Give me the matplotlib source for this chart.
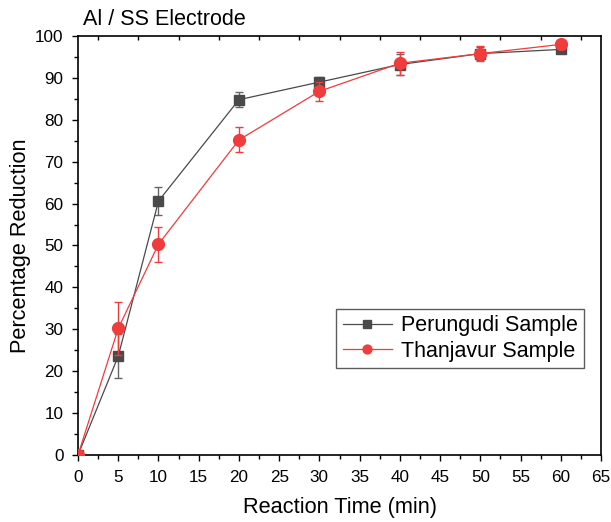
import matplotlib
matplotlib.use("Agg")
import matplotlib.pyplot as plt
from matplotlib.ticker import MultipleLocator, FixedLocator, NullFormatter

plt.rcParams['font.family'] = ['Liberation Sans', 'DejaVu Sans']

time = [0, 5, 10, 20, 30, 40, 50, 60]
perungudi = [0, 23.6, 60.6, 84.8, 89.0, 93.2, 95.8, 96.8]
perungudi_err = [0, 5.2, 3.4, 1.8, 1.2, 2.5, 1.5, 0.8]
thanjavur = [0, 30.2, 50.3, 75.2, 86.8, 93.5, 95.8, 98.0]
thanjavur_err = [0, 6.3, 4.2, 3.0, 2.3, 2.8, 1.8, 1.0]

fig = plt.figure(figsize=(6.11, 5.22), dpi=100)
ax = fig.add_axes([0.1277, 0.1284, 0.8559, 0.8026])

gray = '#4a4a4a'
red = '#f03c3c'
c1 = ax.errorbar(time, perungudi, yerr=perungudi_err, color=gray, marker='s', ms=7.5,
                 lw=0.9, capsize=3, elinewidth=1, ecolor='#666666', zorder=3)
c2 = ax.errorbar(time, thanjavur, yerr=thanjavur_err, color=red, marker='o', ms=8.5,
                 lw=0.9, capsize=3, elinewidth=1, ecolor=red, zorder=4)

ax.set_xlim(0, 65)
ax.set_ylim(0, 100)
ax.xaxis.set_major_locator(MultipleLocator(5))
ax.xaxis.set_minor_locator(MultipleLocator(2.5))
ax.yaxis.set_major_locator(MultipleLocator(10))
ax.yaxis.set_minor_locator(MultipleLocator(5))
ax.tick_params(which='both', direction='out', top=False, right=False, labelsize=12.3, width=1)
ax.tick_params(which='major', length=4.5, pad=6)
ax.tick_params(which='minor', length=3)
for s in ax.spines.values():
    s.set_linewidth(1.2)

# top axis: short inward ticks
top = ax.secondary_xaxis('top')
top.xaxis.set_major_locator(FixedLocator([2.5 + 5 * i for i in range(13)]))
top.xaxis.set_major_formatter(NullFormatter())
top.tick_params(direction='in', length=3, width=1)
top.spines['top'].set_visible(False)

ax.set_xlabel('Reaction Time (min)', fontsize=15.7, labelpad=9)
ax.set_ylabel('Percentage Reduction', fontsize=15.7, labelpad=3)
ax.text(0.01, 1.015, 'Al / SS Electrode', transform=ax.transAxes, fontsize=15.5,
        ha='left', va='bottom')

leg = ax.legend([c1[0], c2[0]], ['Perungudi Sample', 'Thanjavur Sample'],
                loc='lower right', bbox_to_anchor=(0.9675, 0.2076), fontsize=15.5,
                frameon=True, fancybox=False, edgecolor='#333333', handlelength=2.3,
                borderpad=0.3, labelspacing=0.2, handletextpad=0.4, borderaxespad=0,
                markerscale=0.75)
leg.get_frame().set_linewidth(1.0)

fig.savefig('out.png', dpi=100)
